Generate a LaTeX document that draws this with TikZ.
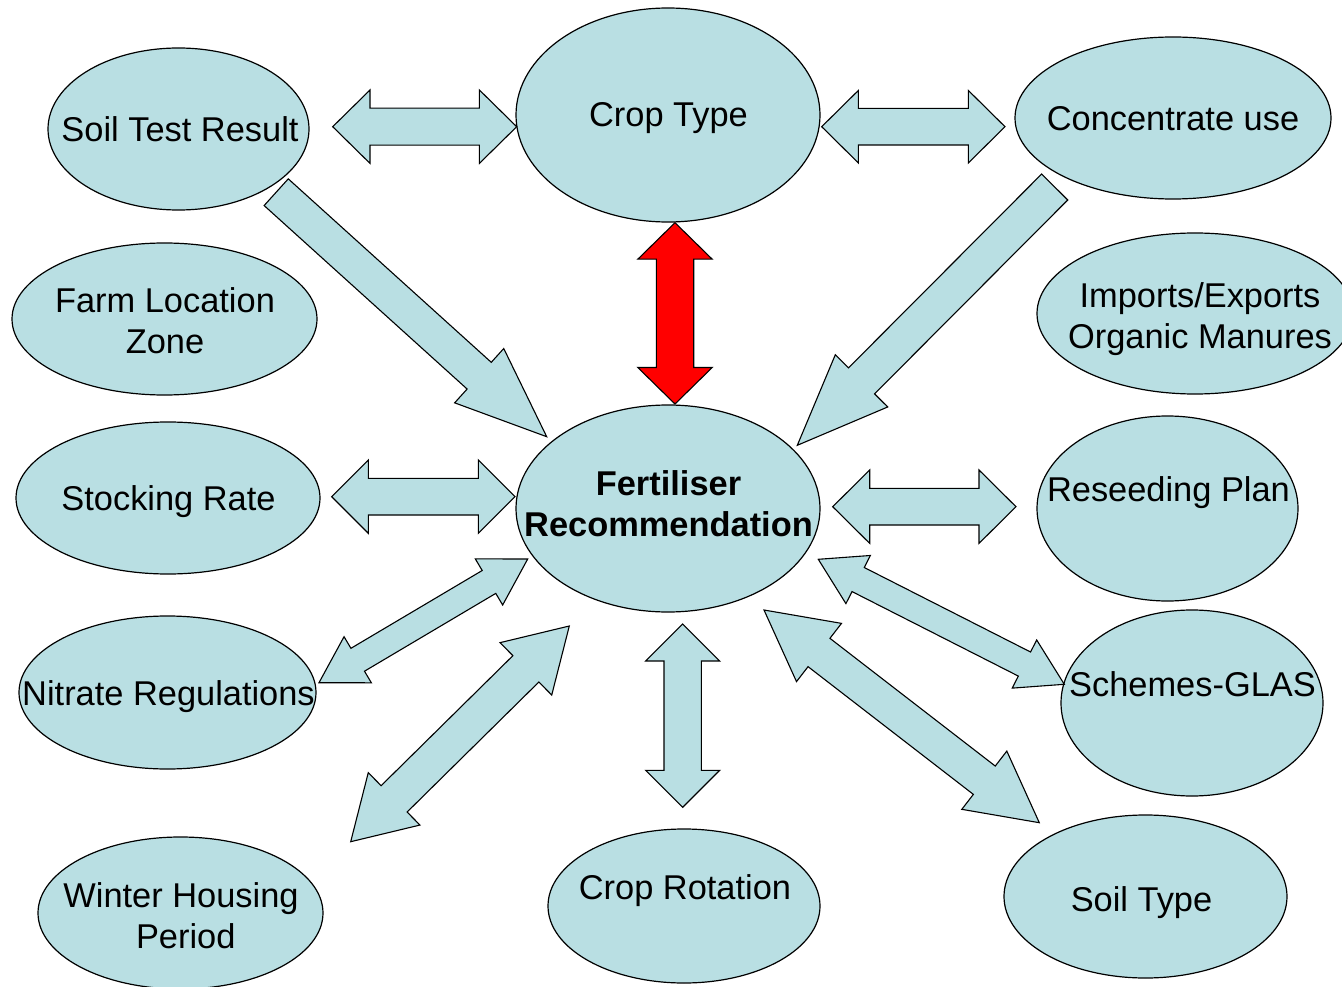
\documentclass[tikz,border=0pt]{standalone}
\usepackage{fontspec}
\setmainfont{Liberation Sans}
\usetikzlibrary{calc,shapes.geometric}
\definecolor{ellfill}{RGB}{185,223,227}
\tikzset{
  ell/.style={ellipse, draw=black, line width=1.2pt, fill=ellfill, inner sep=0pt},
  txt/.style={font=\fontsize{34.4}{41}\selectfont, align=center, inner sep=0pt},
  one/.style={text height=25pt, text depth=7pt},
  barrow/.style={draw=black, line width=1.1pt, fill=ellfill, line join=miter},
  redarrow/.style={barrow, fill=red},
}
% double block arrow: style, tip A, tip B, shaft half width, head half width, head length
\newcommand\dblarr[6]{%
  \path ($(#2)!#6pt!(#3)$) coordinate (ha) ($(#3)!#6pt!(#2)$) coordinate (hb);
  \draw[#1] (#2) -- ($(ha)!#5pt!90:(#3)$) -- ($(ha)!#4pt!90:(#3)$)
    -- ($(hb)!#4pt!-90:(#2)$) -- ($(hb)!#5pt!-90:(#2)$) -- (#3)
    -- ($(hb)!#5pt!90:(#2)$) -- ($(hb)!#4pt!90:(#2)$)
    -- ($(ha)!#4pt!-90:(#3)$) -- ($(ha)!#5pt!-90:(#3)$) -- cycle;}
% single block arrow: style, tail, tip, shaft half width, head half width, head length
\newcommand\sglarr[6]{%
  \path ($(#3)!#6pt!(#2)$) coordinate (hh);
  \draw[#1] ($(#2)!#4pt!90:(#3)$) -- ($(hh)!#4pt!90:(#3)$) -- ($(hh)!#5pt!90:(#3)$)
    -- (#3) -- ($(hh)!#5pt!-90:(#3)$) -- ($(hh)!#4pt!-90:(#3)$)
    -- ($(#2)!#4pt!-90:(#3)$) -- cycle;}
\begin{document}
\begin{tikzpicture}[x=1pt,y=-1pt]
\useasboundingbox (0,0) rectangle (1342,987);
\fill[white] (0,0) rectangle (1342,987);
% ellipses
\node[ell, minimum width=261pt, minimum height=162pt] (soiltest) at (178.5,129) {};
\node[ell, minimum width=304pt, minimum height=214pt] (croptype) at (668,115) {};
\node[ell, minimum width=316pt, minimum height=162pt] (conc) at (1173,118) {};
\node[ell, minimum width=305pt, minimum height=152pt] (farm) at (164.5,319) {};
\node[ell, minimum width=316pt, minimum height=161pt] (imports) at (1195,313.5) {};
\node[ell, minimum width=304pt, minimum height=152pt] (stock) at (168,498) {};
\node[ell, minimum width=304pt, minimum height=207pt] (fert) at (668,508.5) {};
\node[ell, minimum width=261pt, minimum height=185pt] (reseed) at (1167.5,508.5) {};
\node[ell, minimum width=297pt, minimum height=153pt] (nitrate) at (167.5,692.5) {};
\node[ell, minimum width=262pt, minimum height=186pt] (schemes) at (1192,703) {};
\node[ell, minimum width=285pt, minimum height=152pt] (winter) at (180.5,913) {};
\node[ell, minimum width=272pt, minimum height=154pt] (rotation) at (684,906) {};
\node[ell, minimum width=283pt, minimum height=163pt] (soiltype) at (1145.5,896.5) {};
% texts
\node[txt, one] (soiltestT) at (180,133) {Soil Test Result};
\node[txt, one] (croptypeT) at (668.5,118) {Crop Type};
\node[txt, one] (concT) at (1173,122) {Concentrate use};
\node[txt] (farmT) at (165,320.5) {Farm Location\\Zone};
\node[txt] (importsT) at (1200,318.8) {Imports/Exports\\Organic Manures};
\node[txt, one] (stockT) at (168.5,501) {Stocking Rate};
\node[txt, font=\fontsize{34.4}{41}\selectfont\bfseries] (fertT) at (668.5,503.3) {Fertiliser\\Recommendation};
\node[txt, one] (reseedT) at (1168.5,492) {Reseeding Plan};
\node[txt, one] (nitrateT) at (168.5,696) {Nitrate Regulations};
\node[txt, one] (schemesT) at (1192.5,687) {Schemes-GLAS};
\node[txt] (winterT) at (181,915.3) {Winter Housing\\\hspace*{9.5pt}Period};
\node[txt, one] (rotationT) at (685,890) {Crop Rotation};
\node[txt, one] (soiltypeT) at (1141.5,902) {Soil Type};
% arrow end points
\coordinate (a1) at (332.7,126.7);  \coordinate (b1) at (516.7,126.7);
\coordinate (a2) at (821.7,126.7);  \coordinate (b2) at (1005,126.7);
\coordinate (a3) at (331.7,496.7);  \coordinate (b3) at (515,496.7);
\coordinate (a4) at (832.7,506.7);  \coordinate (b4) at (1016,506.7);
\coordinate (a5) at (675,222.7);    \coordinate (b5) at (675,404);
\coordinate (a6) at (682.7,624);    \coordinate (b6) at (682.7,807.3);
\coordinate (a7) at (276.2,192.2);  \coordinate (b7) at (546.7,436.7);
\coordinate (a8) at (1054.7,187);   \coordinate (b8) at (797.3,445.3);
\coordinate (a9) at (527.7,559);    \coordinate (b9) at (319,682.7);
\coordinate (a10) at (569.3,626);   \coordinate (b10) at (350.7,841.7);
\coordinate (a11) at (818.3,559.3); \coordinate (b11) at (1064.3,684.3);
\coordinate (a12) at (764,610);     \coordinate (b12) at (1039.3,822.7);
% arrows
\dblarr{barrow}{a1}{b1}{18.5}{36.7}{37.3}
\dblarr{barrow}{a2}{b2}{18.3}{36.3}{36.7}
\dblarr{barrow}{a3}{b3}{18.3}{36.7}{36.7}
\dblarr{barrow}{a4}{b4}{18.3}{36.7}{37}
\dblarr{redarrow}{a5}{b5}{18.7}{37.2}{36.5}
\dblarr{barrow}{a6}{b6}{18.7}{37}{37}
\sglarr{barrow}{a7}{b7}{18}{36.6}{91}
\sglarr{barrow}{a8}{b8}{18.4}{37}{91}
\dblarr{barrow}{a9}{b9}{13.3}{26.8}{45}
\dblarr{barrow}{a10}{b10}{18.5}{36.8}{61}
\dblarr{barrow}{a11}{b11}{13.5}{27}{44.7}
\dblarr{barrow}{a12}{b12}{17.9}{36.8}{69.5}
\end{tikzpicture}
\end{document}
